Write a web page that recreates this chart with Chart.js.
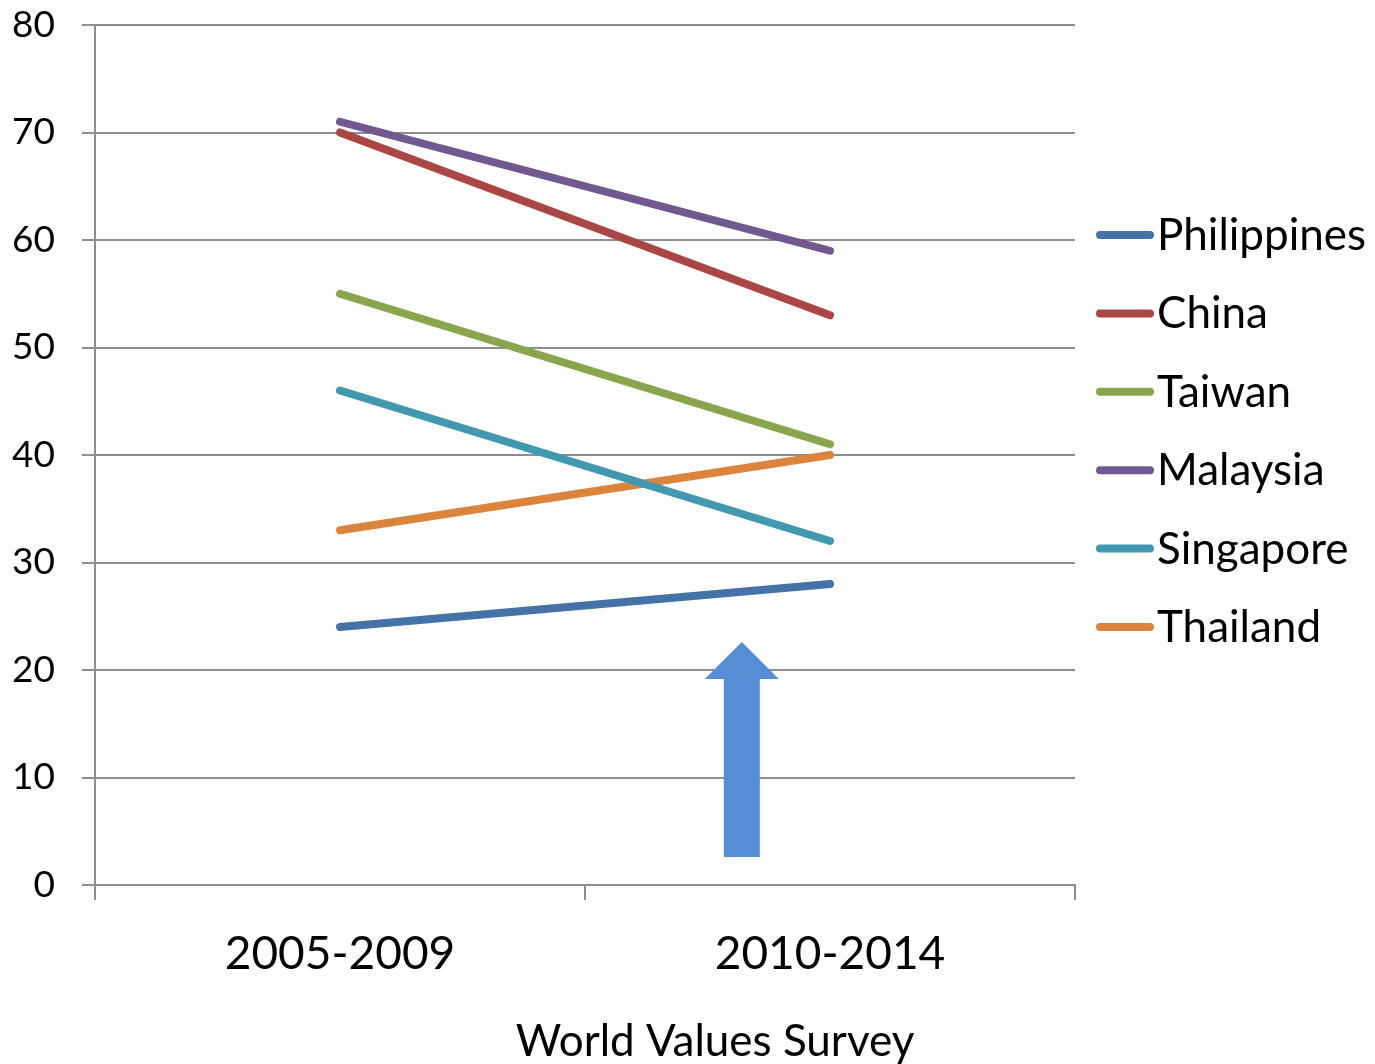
<!DOCTYPE html>
<html>
<head>
<meta charset="utf-8">
<script src="https://cdn.jsdelivr.net/npm/chart.js@4/dist/chart.umd.min.js"></script>
<style>
  html, body { margin: 0; padding: 0; background: #ffffff; }
  #wrap { width: 1375px; height: 1064px; position: relative; }
</style>
</head>
<body>
<div id="wrap"><canvas id="c" width="1375" height="1064"></canvas></div>
<script>
// Survey waves on the x axis
const periods = ['2005-2009', '2010-2014'];

// Share per country in each wave (%)
const philippines = [24, 28];
const china       = [70, 53];
const taiwan      = [55, 41];
const malaysia    = [71, 59];
const singapore   = [46, 32];
const thailand    = [33, 40];

const countryNames = ['Philippines', 'China', 'Taiwan', 'Malaysia', 'Singapore', 'Thailand'];
const countryValues = [philippines, china, taiwan, malaysia, singapore, thailand];
const countryColors = ['#4572A7', '#AA4643', '#89A54E', '#71588F', '#4198AF', '#DB843D'];

// Value axis ticks
const yTicks = [0, 10, 20, 30, 40, 50, 60, 70, 80];

// Axis caption
const axisCaption = 'World Values Survey';

// Upward arrow marker, in axis units: category position and value span
const arrowAt = 0.82;
const arrowFrom = 2.6;
const arrowTo = 22.6;

const FONT = 'Lato, "Open Sans", sans-serif';
const GRID = '#8e8e8e';

const datasets = countryNames.map((name, i) => ({
  label: name,
  data: countryValues[i],
  borderColor: countryColors[i],
  backgroundColor: countryColors[i],
  borderWidth: 8,
  borderCapStyle: 'round',
  borderJoinStyle: 'round',
  pointRadius: 0,
  pointHoverRadius: 0,
  tension: 0,
  fill: false
}));

// Draws the arrow, the right-hand legend and the axis caption
const extras = {
  id: 'extras',
  afterDatasetsDraw(chart) {
    const ctx = chart.ctx;
    const xs = chart.scales.x, ys = chart.scales.y;

    // arrow
    const cx = xs.getPixelForValue(arrowAt);
    const yBottom = ys.getPixelForValue(arrowFrom);
    const yTop = ys.getPixelForValue(arrowTo);
    const shaftHalf = 18, headHalf = 37, headLen = 37;
    ctx.save();
    ctx.fillStyle = '#558ED5';
    ctx.beginPath();
    ctx.moveTo(cx - shaftHalf, yBottom);
    ctx.lineTo(cx - shaftHalf, yTop + headLen);
    ctx.lineTo(cx - headHalf, yTop + headLen);
    ctx.lineTo(cx, yTop);
    ctx.lineTo(cx + headHalf, yTop + headLen);
    ctx.lineTo(cx + shaftHalf, yTop + headLen);
    ctx.lineTo(cx + shaftHalf, yBottom);
    ctx.closePath();
    ctx.fill();
    ctx.restore();
  },
  afterDraw(chart) {
    const ctx = chart.ctx;
    ctx.save();
    // legend
    const lx0 = 1100, lx1 = 1150, tx = 1157;
    const top = 235, step = 78.4;
    ctx.font = '44px ' + FONT;
    ctx.textAlign = 'left';
    ctx.textBaseline = 'alphabetic';
    chart.data.datasets.forEach((ds, i) => {
      const y = top + i * step;
      ctx.strokeStyle = ds.borderColor;
      ctx.lineWidth = 8;
      ctx.lineCap = 'round';
      ctx.beginPath();
      ctx.moveTo(lx0, y);
      ctx.lineTo(lx1, y);
      ctx.stroke();
      ctx.fillStyle = '#000000';
      ctx.fillText(ds.label, tx, y + 15);
    });
    // axis caption
    ctx.font = '44px ' + FONT;
    ctx.textAlign = 'center';
    ctx.fillText(axisCaption, 715, 1056);
    ctx.restore();
  }
};

new Chart(document.getElementById('c'), {
  type: 'line',
  data: { labels: periods, datasets },
  options: {
    responsive: false,
    animation: false,
    layout: { padding: { top: 25, right: 300, bottom: 0, left: 0 } },
    plugins: {
      legend: { display: false },
      tooltip: { enabled: false }
    },
    scales: {
      x: {
        type: 'category',
        offset: true,
        afterFit(scale) {
          scale.height = 179;
          scale.paddingLeft = 0;
          scale.paddingRight = 0;
        },
        grid: {
          offset: true,
          drawOnChartArea: false,
          drawTicks: true,
          tickLength: 15,
          color: GRID,
          lineWidth: 2
        },
        border: { display: true, color: GRID, width: 2 },
        ticks: {
          color: '#000000',
          font: { family: FONT, size: 46 },
          padding: 27,
          maxRotation: 0
        }
      },
      y: {
        min: 0,
        max: 80,
        afterFit(scale) {
          scale.width = 95;
          scale.paddingTop = 0;
          scale.paddingBottom = 0;
        },
        afterBuildTicks(scale) { scale.ticks = yTicks.map(v => ({ value: v })); },
        grid: {
          color: GRID,
          lineWidth: 2,
          drawTicks: true,
          tickLength: 13
        },
        border: { display: true, color: GRID, width: 2 },
        ticks: {
          color: '#000000',
          font: { family: FONT, size: 37 },
          padding: 27
        }
      }
    }
  },
  plugins: [extras]
});
</script>
</body>
</html>
